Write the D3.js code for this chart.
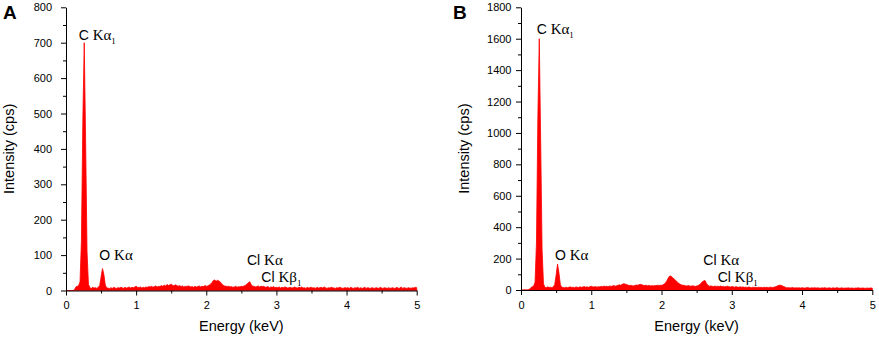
<!DOCTYPE html>
<html>
<head>
<meta charset="utf-8">
<script src="https://cdn.jsdelivr.net/npm/d3@7"></script>
<style>
  body { margin: 0; background: #fff; }
  svg { display: block; }
</style>
</head>
<body>
<div id="chart"></div>
<script>
// Channel energies (keV), 0.02 keV per channel from 0 to 5
var channelStep = 0.02;
var channelCount = 251;

// Counts (cps), one value per channel
var countsA = [
  0,0,0,0,0,0,2,10,12,14,
  25,140,480,700,420,110,18,8,6,9,
  7,8,6,9,14,38,62,45,16,7,
  7,5,8,6,9,7,6,8,7,9,
  8,6,9,7,8,10,7,9,8,10,
  12,9,8,10,7,9,8,10,9,11,
  10,12,9,11,13,10,12,11,14,12,
  15,13,17,14,16,18,15,13,16,14,
  12,14,11,13,10,12,11,13,12,10,
  11,9,12,10,11,13,10,12,11,14,
  12,13,15,18,22,28,30,26,29,27,
  24,19,15,13,12,11,12,10,11,9,
  10,12,9,11,10,12,11,13,15,18,
  22,25,17,12,12,10,11,13,10,12,
  11,12,9,10,11,8,10,9,11,8,
  9,8,10,7,9,8,10,9,7,8,
  9,7,8,10,8,7,9,8,10,7,
  8,6,9,7,8,9,7,8,6,9,
  7,8,9,7,10,8,6,8,7,9,
  8,7,6,8,7,9,8,6,7,8,
  7,8,6,9,7,6,8,7,9,6,
  8,6,7,9,6,8,7,6,8,7,
  6,8,7,6,9,7,6,8,7,6,
  8,6,7,8,6,7,9,6,7,10,
  6,8,7,6,8,7,6,8,7,9,
  8
];

// Counts (cps)
var countsB = [
  0,0,0,0,0,0,5,15,20,25,
  50,300,1100,1600,950,260,40,18,15,20,
  16,18,15,20,35,95,165,110,35,17,
  16,14,18,15,17,20,16,18,15,19,
  18,16,20,17,19,22,18,20,17,21,
  24,20,19,22,18,21,20,23,21,25,
  22,24,21,26,23,25,28,24,27,30,
  33,30,36,40,38,35,32,28,30,27,
  26,29,32,30,34,36,33,30,28,31,
  27,30,26,28,25,29,27,31,28,30,
  30,32,38,48,62,80,90,86,78,70,
  62,52,44,38,33,30,30,27,25,28,
  26,24,27,25,23,26,28,33,42,52,
  58,60,42,30,24,26,24,22,25,23,
  24,22,25,21,23,20,22,24,21,19,
  22,20,18,21,19,17,20,18,19,17,
  18,16,19,17,15,18,16,17,15,18,
  16,17,15,18,16,17,15,18,17,16,
  18,20,24,28,31,30,26,22,18,15,
  14,15,13,16,14,12,15,13,14,12,
  15,13,12,14,16,13,12,14,13,15,
  12,14,13,11,14,12,15,13,11,14,
  13,11,14,12,13,15,12,11,14,12,
  11,13,12,14,11,13,12,10,13,12,
  14,12,11,13,12,10,13,11,12,13,
  12
];

// Tick values
var energyTicks = [0, 1, 2, 3, 4, 5];
var energyMinorTicks = [0.5, 1.5, 2.5, 3.5, 4.5];
var yTicksA = [0, 100, 200, 300, 400, 500, 600, 700, 800];
var yMinorTicksA = [50, 150, 250, 350, 450, 550, 650, 750];
var yTicksB = [0, 200, 400, 600, 800, 1000, 1200, 1400, 1600, 1800];
var yMinorTicksB = [100, 300, 500, 700, 900, 1100, 1300, 1500, 1700];

// Peak labels: element, line, subscript, energy and intensity of the label baseline
var peakElements = ["C", "O", "Cl", "Cl"];
var peakLines = ["K\u03b1", "K\u03b1", "K\u03b1", "K\u03b2"];
var peakSubs = ["1", "", "", "1"];

var peakEnergyA = [0.18, 0.475, 2.58, 2.785];
var peakLevelA = [708, 85, 72, 25];

var peakEnergyB = [0.223, 0.484, 2.595, 2.80];
var peakLevelB = [1633, 188, 156, 51];

var width = 879, height = 338;
var sansFont = "'Liberation Sans', Arial, sans-serif";
var serifFont = "'Liberation Serif', 'Times New Roman', serif";

var svg = d3.select("#chart")
  .append("svg")
    .attr("width", width)
    .attr("height", height);

var energy = d3.range(channelCount).map(function(i) { return i * channelStep; });

drawPanel({
  letter: "A", letterX: 3, left: 66, right: 416.7, top: 7.3, bottom: 290.5,
  yMax: 800, yTicks: yTicksA, yMinor: yMinorTicksA, counts: countsA, labelGap: 9,
  peakEnergy: peakEnergyA, peakLevel: peakLevelA
});

drawPanel({
  letter: "B", letterX: 453, left: 521, right: 872.3, top: 7.3, bottom: 290,
  yMax: 1800, yTicks: yTicksB, yMinor: yMinorTicksB, counts: countsB, labelGap: 4.5,
  peakEnergy: peakEnergyB, peakLevel: peakLevelB
});

function drawPanel(p) {
  var x = d3.scaleLinear().domain([0, 5]).range([p.left, p.right]);
  var y = d3.scaleLinear().domain([0, p.yMax]).range([p.bottom, p.top]);

  var g = svg.append("g");

  // Spectrum as filled area
  var points = energy.map(function(e, i) { return {e: e, v: p.counts[i]}; });
  var area = d3.area()
    .x(function(d) { return x(d.e); })
    .y0(y(0))
    .y1(function(d) { return y(d.v); });

  g.append("path")
    .datum(points)
    .attr("d", area)
    .attr("fill", "#ff0000")
    .attr("stroke", "#ff0000")
    .attr("stroke-width", 0.8)
    .attr("stroke-linejoin", "round");

  // Minor ticks first, then major axes on top
  g.append("g")
    .attr("transform", "translate(0," + p.bottom + ")")
    .call(d3.axisBottom(x).tickValues(energyMinorTicks).tickSize(3).tickFormat(""))
    .call(function(s) { s.select(".domain").remove(); });

  g.append("g")
    .attr("transform", "translate(" + p.left + ",0)")
    .call(d3.axisLeft(y).tickValues(p.yMinor).tickSize(3).tickFormat(""))
    .call(function(s) { s.select(".domain").remove(); });

  var xAxis = g.append("g")
    .attr("transform", "translate(0," + p.bottom + ")")
    .call(d3.axisBottom(x).tickValues(energyTicks).tickSize(5).tickSizeOuter(0).tickPadding(6).tickFormat(d3.format("d")));
  xAxis.selectAll("text")
    .style("font-family", sansFont)
    .style("font-size", "11px")
    .attr("fill", "#000");

  var yAxis = g.append("g")
    .attr("transform", "translate(" + p.left + ",0)")
    .call(d3.axisLeft(y).tickValues(p.yTicks).tickSize(5).tickSizeOuter(0).tickPadding(p.labelGap).tickFormat(d3.format("d")));
  yAxis.selectAll("text")
    .style("font-family", sansFont)
    .style("font-size", "11px")
    .attr("fill", "#000");

  g.selectAll(".domain").attr("stroke", "#000");
  g.selectAll(".tick line").attr("stroke", "#000");

  // Axis titles
  g.append("text")
    .attr("x", (p.left + p.right) / 2)
    .attr("y", 330.5)
    .attr("text-anchor", "middle")
    .style("font-family", sansFont)
    .style("font-size", "14.5px")
    .text("Energy (keV)");

  g.append("text")
    .attr("transform", "translate(" + (p.left - 52) + "," + ((p.top + p.bottom) / 2) + ") rotate(-90)")
    .attr("text-anchor", "middle")
    .style("font-family", sansFont)
    .style("font-size", "14.5px")
    .text("Intensity (cps)");

  // Panel letter
  g.append("text")
    .attr("x", p.letterX)
    .attr("y", 18.5)
    .style("font-family", sansFont)
    .style("font-weight", "bold")
    .style("font-size", "19px")
    .text(p.letter);

  // Peak labels
  peakElements.forEach(function(el, i) {
    var t = g.append("text")
      .attr("x", x(p.peakEnergy[i]))
      .attr("y", y(p.peakLevel[i]))
      .attr("fill", "#000");
    t.append("tspan")
      .style("font-family", sansFont)
      .style("font-size", "14px")
      .text(el + " ");
    t.append("tspan")
      .style("font-family", serifFont)
      .style("font-size", "15px")
      .text(peakLines[i]);
    if (peakSubs[i]) {
      t.append("tspan")
        .attr("dy", 4)
        .style("font-family", serifFont)
        .style("font-size", "9px")
        .text(peakSubs[i]);
    }
  });
}
</script>
</body>
</html>
